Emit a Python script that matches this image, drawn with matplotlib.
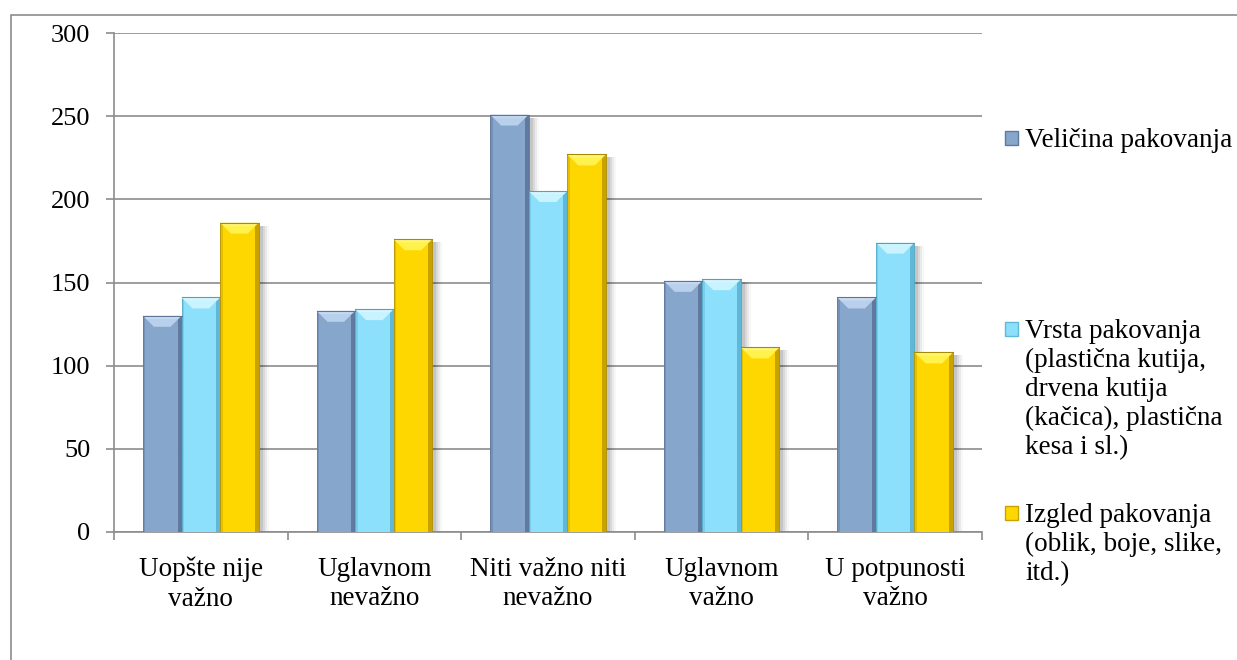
import numpy as np
import matplotlib.pyplot as plt
from matplotlib.patches import Polygon, Rectangle

plt.rcParams['font.family'] = ['Liberation Serif', 'DejaVu Serif']

categories = [
    "Uopšte nije\nvažno",
    "Uglavnom\nnevažno",
    "Niti važno niti\nnevažno",
    "Uglavnom\nvažno",
    "U potpunosti\nvažno",
]

velicina = [130, 133, 251, 151, 141]
vrsta = [141, 134, 205, 152, 174]
izgled = [186, 176, 227, 111, 108]

series_names = [
    "Veličina pakovanja",
    "Vrsta pakovanja\n(plastična kutija,\ndrvena kutija\n(kačica), plastična\nkesa i sl.)",
    "Izgled pakovanja\n(oblik, boje, slike,\nitd.)",
]

# face, top bevel, right edge, outline
palette = [
    ("#87a6cc", "#b9d0ec", "#5f7a9e", "#5d7596"),
    ("#8ce0fc", "#c8f3ff", "#5fb8d8", "#4fa3c2"),
    ("#ffd700", "#fff24c", "#c9a200", "#a88a00"),
]

W, H, DPI = 1237, 660, 100
fig = plt.figure(figsize=(W / DPI, H / DPI), dpi=DPI)
ax_l, ax_r, ax_t, ax_b = 114, 982, 33, 532
ax = fig.add_axes([ax_l / W, 1 - ax_b / H, (ax_r - ax_l) / W, (ax_b - ax_t) / H])

grid_c = "#8c8c8c"
x = np.arange(len(categories))
bw = 1 / 4.5
ax.set_xlim(-0.5, len(categories) - 0.5)
ax.set_ylim(0, 300)

# pixel -> data unit sizes
px_x = len(categories) / (ax_r - ax_l)
px_y = 300 / (ax_b - ax_t)

for i, vals in enumerate([velicina, vrsta, izgled]):
    face, top, edge, outline = palette[i]
    pos = x + (i - 1) * bw
    bars = ax.bar(pos, vals, width=bw, color=face, edgecolor=outline,
                  linewidth=0.6, zorder=3)
    for b in bars:
        x0, w, h = b.get_x(), b.get_width(), b.get_height()
        x1 = x0 + w
        # soft shadow to the right
        for k, a in [(8, 0.03), (6, 0.05), (4, 0.07), (2, 0.09)]:
            ax.add_patch(Rectangle((x0 + 2 * px_x, 0), w + k * px_x, h - 3 * px_y,
                                   color="black", alpha=a, lw=0, zorder=2))
        # right darker strip and left shade
        ax.add_patch(Rectangle((x1 - 4 * px_x, 0), 4 * px_x, h, color=edge,
                               lw=0, zorder=3.1))
        ax.add_patch(Rectangle((x0, 0), 2.5 * px_x, h, color=edge, alpha=0.45,
                               lw=0, zorder=3.1))
        # top bevel
        d = 11
        ax.add_patch(Polygon([(x0, h), (x1, h), (x1 - d * px_x, h - d * px_y),
                              (x0 + d * px_x, h - d * px_y)],
                             closed=True, color=top, lw=0, zorder=3.2))
        ax.add_patch(Polygon([(x0, h), (x1, h), (x1 - 3 * px_x, h - 3 * px_y),
                              (x0 + 3 * px_x, h - 3 * px_y)],
                             closed=True, color="white", alpha=0.25, lw=0, zorder=3.3))
        ax.plot([x0, x1], [h, h], color=outline, lw=0.8, zorder=3.4)

ax.set_yticks(np.arange(0, 301, 50))
ax.grid(axis="y", color=grid_c, linewidth=1.2, zorder=0)
ax.set_axisbelow(True)
for s in ["top", "right"]:
    ax.spines[s].set_visible(False)
for s in ["left", "bottom"]:
    ax.spines[s].set_color(grid_c)
    ax.spines[s].set_linewidth(1.2)

ax.set_xticks(x)
ax.set_xticklabels(categories, fontsize=19.5, linespacing=1.22)
ax.set_xticks(np.arange(-0.5, len(categories)), minor=True)
ax.tick_params(axis="x", which="major", length=0, pad=18)
ax.tick_params(axis="x", which="minor", length=6, width=1.2, color=grid_c,
               direction="out")
ax.tick_params(axis="y", length=6, width=1.2, color=grid_c, pad=11, labelsize=19)

# legend: square marker plus wrapped label, one line every 29 px
leg_x = 1005
leg_baselines = [147, 338, 522]
for i, base in enumerate(leg_baselines):
    face, top, edge, outline = palette[i]
    fig.patches.append(Rectangle((leg_x / W, 1 - (base - 2) / H), 13 / W, 14 / H,
                                 transform=fig.transFigure, facecolor=face,
                                 edgecolor=edge, lw=1))
    for k, line in enumerate(series_names[i].split("\n")):
        fig.text((leg_x + 20) / W, 1 - (base + 29 * k) / H, line,
                 fontsize=19.5, va="baseline", ha="left")

# outer frame
fig.patches.append(Rectangle((11 / W, -0.1), 1.2, 1.1 - 15 / H,
                             transform=fig.transFigure, fill=False,
                             edgecolor=grid_c, lw=1.2))

fig.savefig("out.png", dpi=DPI)
